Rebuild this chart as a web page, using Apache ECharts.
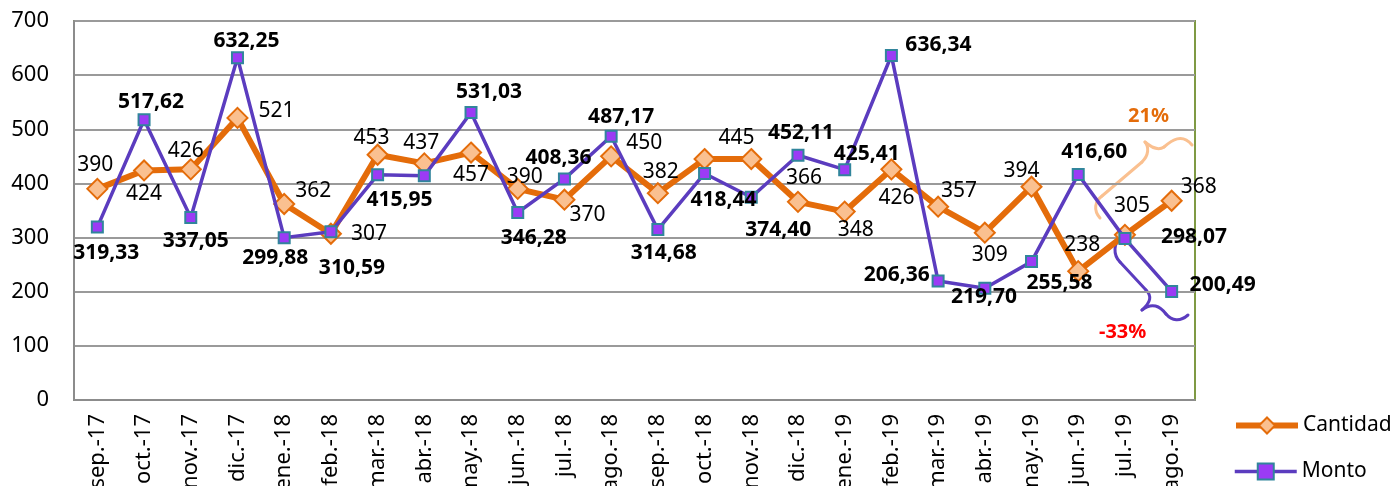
<!DOCTYPE html>
<html>
<head>
<meta charset="utf-8">
<script src="https://cdn.jsdelivr.net/npm/echarts@6.0.0/dist/echarts.min.js"></script>
<style>
  html, body { margin: 0; padding: 0; background: #fff; }
  #chart { width: 1396px; height: 486px; }
</style>
</head>
<body>
<div id="chart"></div>
<script>
const months = [
  "sep.-17", "oct.-17", "nov.-17", "dic.-17", "ene.-18", "feb.-18",
  "mar.-18", "abr.-18", "may.-18", "jun.-18", "jul.-18", "ago.-18",
  "sep.-18", "oct.-18", "nov.-18", "dic.-18", "ene.-19", "feb.-19",
  "mar.-19", "abr.-19", "may.-19", "jun.-19", "jul.-19", "ago.-19",
];
const cantidad = [
  390, 424, 426, 521, 362, 307, 453, 437, 457, 390, 370, 450,
  382, 445, 445, 366, 348, 426, 357, 309, 394, 238, 305, 368,
];
const monto = [
  319.33, 517.62, 337.05, 632.25, 299.88, 310.59, 415.95, 414.0,
  531.03, 346.28, 408.36, 487.17, 314.68, 418.44, 374.4, 452.11,
  425.41, 636.34, 219.7, 206.36, 255.58, 416.6, 298.07, 200.49,
];
const yTicks = [0, 100, 200, 300, 400, 500, 600, 700];
const annotations = ["21%", "-33%"];

// label offsets from each point (null = no label), kept apart from the values
const cantidadLabelOffset = [
  [-2, -24], [0, 24], [-5, -18], [39, -7], [29, -13], [38, 0],
  [-6, -17], [-3, -20], [0, 22], [7, -12], [23, 15], [33, -13],
  [3, -21], [32, -21], null, [6, -24], [11, 18], [5, 29],
  [21, -16], [5, 22], [-10, -16], [4, -26], [7, -29], [27, -14],
];
const montoLabelOffset = [
  [9, 26], [7, -18], [5, 24], [9, -17], [-9, 20], [21, 36],
  [22, 25], null, [18, -20], [16, 26], [-6, -21], [10, -19],
  [6, 23], [19, 27], [27, 33], [3, -22], [22, -16], [47, -10],
  [46, 16], [-88, -13], [28, 21], [16, -22], [69, -2], [51, -6],
];

const FONT = "Noto Sans";
const fmt = (v) => v.toFixed(2).replace(".", ",");

function withLabels(values, offsets) {
  return values.map((v, i) => {
    const off = offsets[i];
    if (!off) return { value: v, label: { show: false } };
    return { value: v, label: { show: true, position: "inside", offset: off } };
  });
}

// hand-drawn curly braces next to the last months
function brace(segs, color) {
  return {
    type: "group",
    z: 1,
    children: segs.map((s) =>
      s.length === 4
        ? {
            type: "line",
            shape: { x1: s[0], y1: s[1], x2: s[2], y2: s[3] },
            style: { stroke: color, lineWidth: 3, lineCap: "round" },
          }
        : {
            type: "bezierCurve",
            shape: {
              x1: s[0], y1: s[1], cpx1: s[2], cpy1: s[3],
              cpx2: s[4], cpy2: s[5], x2: s[6], y2: s[7],
            },
            style: { stroke: color, fill: null, lineWidth: 3, lineCap: "round" },
          }
    ),
  };
}

function legendItem(name, top, lineWidth) {
  return {
    orient: "vertical",
    left: 1228,
    top: top,
    itemWidth: 62,
    itemHeight: 20,
    lineStyle: { width: lineWidth },
    textStyle: { fontSize: 21, color: "#000", fontFamily: FONT },
    data: [name],
  };
}

const chart = echarts.init(document.getElementById("chart"));

chart.setOption({
  animation: false,
  textStyle: { fontFamily: FONT },
  grid: {
    left: 74,
    right: 201,
    top: 21,
    bottom: 86,
    outerBoundsMode: "none",
    show: true,
    borderColor: "#7f9a44",
    borderWidth: 2,
  },
  legend: [legendItem("Cantidad", 410, 6), legendItem("Monto", 456, 3.5)],
  xAxis: {
    type: "category",
    data: months,
    axisLine: { lineStyle: { color: "#8c8c8c", width: 2 } },
    axisTick: { show: false },
    axisLabel: {
      rotate: 90,
      margin: 14,
      fontSize: 22,
      color: "#000",
      interval: 0,
    },
  },
  yAxis: {
    type: "value",
    min: yTicks[0],
    max: yTicks[yTicks.length - 1],
    interval: 100,
    axisLine: { show: true, lineStyle: { color: "#8c8c8c", width: 2 } },
    axisTick: { show: false },
    axisLabel: { fontSize: 22, color: "#000", margin: 25 },
    splitLine: { lineStyle: { color: "#9a9a9a", width: 2 } },
  },
  series: [
    {
      name: "Cantidad",
      type: "line",
      data: withLabels(cantidad, cantidadLabelOffset),
      symbol: "diamond",
      symbolSize: 20,
      lineStyle: { color: "#e46c0a", width: 6 },
      itemStyle: { color: "#fac090", borderColor: "#e46c0a", borderWidth: 2 },
      label: {
        fontSize: 21,
        color: "#000",
        fontFamily: FONT,
        formatter: (p) => String(p.value),
      },
      z: 2,
    },
    {
      name: "Monto",
      type: "line",
      data: withLabels(monto, montoLabelOffset),
      symbol: "rect",
      symbolSize: 11,
      lineStyle: { color: "#5b3cbf", width: 3.5 },
      itemStyle: { color: "#9b3bf5", borderColor: "#31859c", borderWidth: 2 },
      label: {
        fontSize: 21,
        fontWeight: "bold",
        color: "#000",
        fontFamily: FONT,
        formatter: (p) => fmt(p.value),
      },
      z: 3,
    },
  ],
  graphic: [
    brace(
      [
        [1100, 218, 1093, 210, 1095, 201, 1102, 196],
        [1102, 196, 1142, 162],
        [1142, 162, 1149, 155, 1149, 147, 1145, 142],
        [1145, 142, 1152, 148, 1158, 151, 1164, 147],
        [1164, 147, 1172, 140, 1182, 133, 1192, 145],
      ],
      "#fac090"
    ),
    brace(
      [
        [1122, 236, 1113, 243, 1113, 255, 1120, 262],
        [1120, 262, 1146, 290],
        [1146, 290, 1152, 296, 1151, 302, 1142, 310],
        [1142, 310, 1152, 302, 1160, 306, 1166, 314],
        [1166, 314, 1172, 321, 1180, 322, 1188, 315],
      ],
      "#5b3cbf"
    ),
    {
      type: "text",
      left: 1128,
      top: 106,
      style: {
        text: annotations[0],
        fill: "#e46c0a",
        font: "bold 20px 'Noto Sans'",
      },
    },
    {
      type: "text",
      left: 1099,
      top: 322,
      style: {
        text: annotations[1],
        fill: "#ff0000",
        font: "bold 20px 'Noto Sans'",
      },
    },
  ],
});
</script>
</body>
</html>
